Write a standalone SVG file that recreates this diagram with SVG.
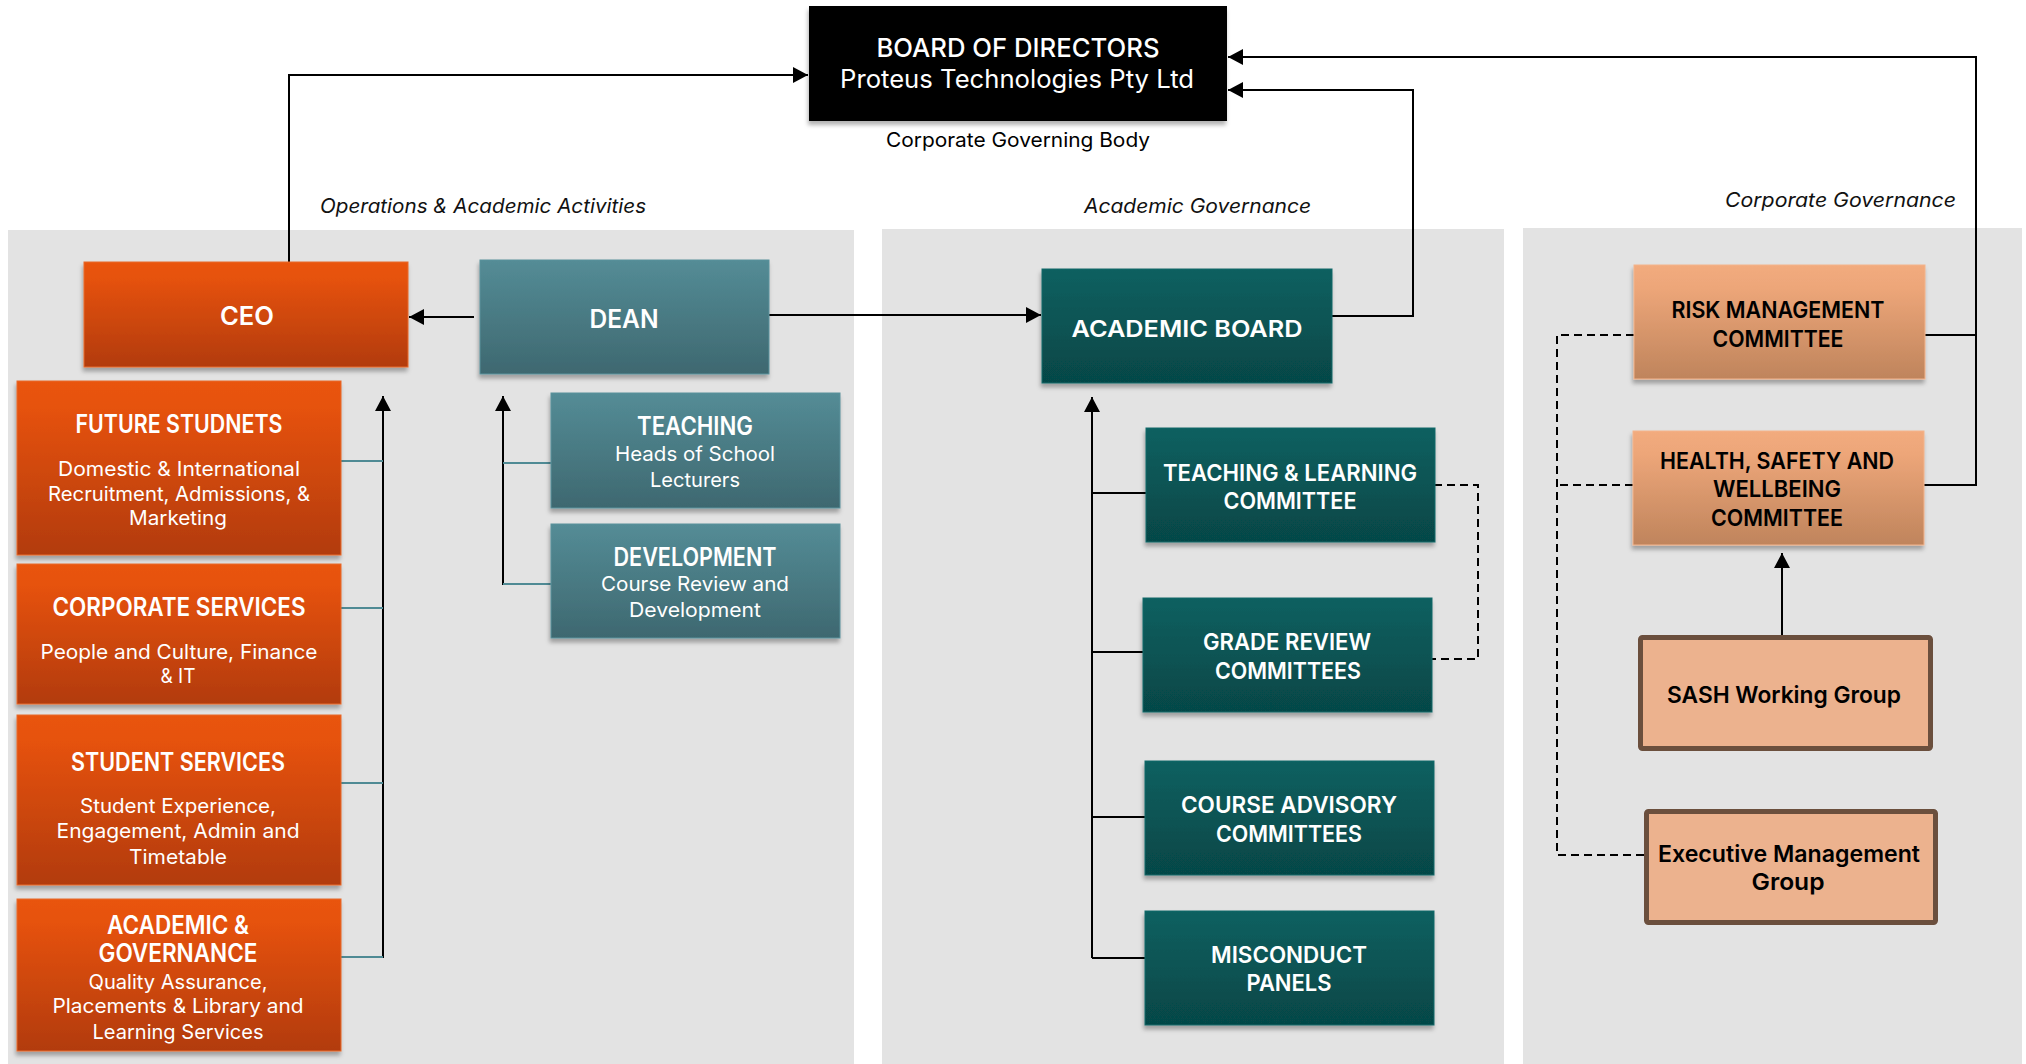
<svg xmlns="http://www.w3.org/2000/svg" width="2026" height="1064" viewBox="0 0 2026 1064">
<defs>
<linearGradient id="gOrange" x1="0" y1="0" x2="0" y2="1"><stop offset="0" stop-color="#e9540f"/><stop offset="0.15" stop-color="#e6520f"/><stop offset="1" stop-color="#b23b0a"/></linearGradient>
<linearGradient id="gTeal" x1="0" y1="0" x2="0" y2="1"><stop offset="0" stop-color="#548c96"/><stop offset="1" stop-color="#3e6870"/></linearGradient>
<linearGradient id="gDark" x1="0" y1="0" x2="0" y2="1"><stop offset="0" stop-color="#0b6060"/><stop offset="1" stop-color="#064747"/></linearGradient>
<linearGradient id="gPeach" x1="0" y1="0" x2="0" y2="1"><stop offset="0" stop-color="#f2ab7e"/><stop offset="0.2" stop-color="#eda679"/><stop offset="1" stop-color="#bf845c"/></linearGradient>
<filter id="sh" x="-10%" y="-10%" width="120%" height="130%"><feDropShadow dx="-1" dy="4" stdDeviation="2" flood-color="#000" flood-opacity="0.3"/></filter>
<marker id="ah" markerUnits="userSpaceOnUse" markerWidth="16" markerHeight="16" refX="15" refY="8" orient="auto"><path d="M0,0 L15,8 L0,16 Z" fill="#000"/></marker>
<style>
.panel{fill:#e3e3e3}
.t{font-family:Inter,"Liberation Sans",Arial,sans-serif;text-anchor:middle}
.w{fill:#fff}
.k{fill:#000}
.tt{font-size:25px;font-weight:600}
.bd{font-size:20px;font-weight:400}
.ct{font-size:23px;font-weight:600}
.sec{font-family:Inter,"Liberation Sans",Arial,sans-serif;font-size:20px;font-style:italic;fill:#111}
.ln{fill:none;stroke:#000;stroke-width:2}
.tl{fill:none;stroke:#4f8a94;stroke-width:2}
.ds{fill:none;stroke:#000;stroke-width:2;stroke-dasharray:8 5}
.or{fill:url(#gOrange);stroke:#e86a2a;stroke-width:1}
.te{fill:url(#gTeal);stroke:#5a929c;stroke-width:1}
.dk{fill:url(#gDark);stroke:#0e6a6a;stroke-width:1}
.pc{fill:url(#gPeach);stroke:#f3b48c;stroke-width:1}
.sq{fill:#ecb28e;stroke:#6b4f3d;stroke-width:5}
</style>
</defs>
<rect width="2026" height="1064" fill="#fff"/>
<g id="panels">
<rect class="panel" x="8" y="230" width="846" height="834"/>
<rect class="panel" x="882" y="229" width="622" height="835"/>
<rect class="panel" x="1523" y="228" width="499" height="836"/>
</g>
<g id="labels">
<text class="t" x="1018" y="147" font-size="20" textLength="264" lengthAdjust="spacingAndGlyphs">Corporate Governing Body</text>
<text class="sec" x="320" y="213" textLength="326" lengthAdjust="spacingAndGlyphs">Operations &amp; Academic Activities</text>
<text class="sec" x="1084" y="213" textLength="227" lengthAdjust="spacingAndGlyphs">Academic Governance</text>
<text class="sec" x="1725" y="207" textLength="231" lengthAdjust="spacingAndGlyphs">Corporate Governance</text>
</g>
<g id="connectors">
<path class="ln" d="M289 262 V75 H808" marker-end="url(#ah)"/>
<path class="ln" d="M474 317 H409" marker-end="url(#ah)"/>
<path class="ln" d="M769 315 H1041" marker-end="url(#ah)"/>
<path class="ln" d="M1332 316 H1413 V90 H1228" marker-end="url(#ah)"/>
<path class="ln" d="M1925 335 H1976 V57 H1228" marker-end="url(#ah)"/>
<path class="ln" d="M1924 485 H1976 V334"/>
<path class="ln" d="M383 958 V396" marker-end="url(#ah)"/>
<path class="tl" d="M341 461 H383 M341 608 H383 M341 783 H383 M341 957 H383"/>
<path class="ln" d="M503 585 V396" marker-end="url(#ah)"/>
<path class="tl" d="M503 463 H551 M503 584 H551"/>
<path class="ln" d="M1092 958 V397" marker-end="url(#ah)"/>
<path class="ln" d="M1092 493 H1146 M1092 652 H1143 M1092 817 H1145 M1092 958 H1145"/>
<path class="ds" d="M1434 485 H1478 V659 H1424"/>
<path class="ln" d="M1782 635 V553" marker-end="url(#ah)"/>
<path class="ds" d="M1634 335 H1557 V855 H1644"/>
<path class="ds" d="M1633 485 H1557"/>
</g>
<g id="board">
<rect x="809" y="6" width="418" height="115" fill="#000" filter="url(#sh)"/>
<text class="t w" x="1018" y="57" font-size="26" font-weight="500" textLength="283" lengthAdjust="spacingAndGlyphs">BOARD OF DIRECTORS</text>
<text class="t w" x="1017" y="88" font-size="25" textLength="354" lengthAdjust="spacingAndGlyphs">Proteus Technologies Pty Ltd</text>
</g>
<g id="ceo">
<rect class="or" x="84" y="262" width="324" height="105" filter="url(#sh)"/>
<text class="t w tt" x="247" y="325" textLength="54" lengthAdjust="spacingAndGlyphs">CEO</text>
</g>
<g id="dean">
<rect class="te" x="480" y="260" width="289" height="114" filter="url(#sh)"/>
<text class="t w tt" x="624" y="328" font-size="27" textLength="69" lengthAdjust="spacingAndGlyphs">DEAN</text>
</g>
<g id="future">
<rect class="or" x="17" y="381" width="324" height="174" filter="url(#sh)"/>
<text class="t w tt" x="179" y="433" textLength="207" lengthAdjust="spacingAndGlyphs">FUTURE STUDNETS</text>
<text class="t w bd" x="179" y="476" textLength="242" lengthAdjust="spacingAndGlyphs">Domestic &amp; International</text>
<text class="t w bd" x="179" y="501" textLength="262" lengthAdjust="spacingAndGlyphs">Recruitment, Admissions, &amp;</text>
<text class="t w bd" x="178" y="525" textLength="98" lengthAdjust="spacingAndGlyphs">Marketing</text>
</g>
<g id="corporate">
<rect class="or" x="17" y="564" width="324" height="140" filter="url(#sh)"/>
<text class="t w tt" x="179" y="616" textLength="253" lengthAdjust="spacingAndGlyphs">CORPORATE SERVICES</text>
<text class="t w bd" x="179" y="659" textLength="277" lengthAdjust="spacingAndGlyphs">People and Culture, Finance</text>
<text class="t w bd" x="178" y="683" textLength="35" lengthAdjust="spacingAndGlyphs">&amp; IT</text>
</g>
<g id="student">
<rect class="or" x="17" y="715" width="324" height="170" filter="url(#sh)"/>
<text class="t w tt" x="178" y="771" textLength="214" lengthAdjust="spacingAndGlyphs">STUDENT SERVICES</text>
<text class="t w bd" x="178" y="813" textLength="196" lengthAdjust="spacingAndGlyphs">Student Experience,</text>
<text class="t w bd" x="178" y="838" textLength="243" lengthAdjust="spacingAndGlyphs">Engagement, Admin and</text>
<text class="t w bd" x="178" y="864" textLength="98" lengthAdjust="spacingAndGlyphs">Timetable</text>
</g>
<g id="academic-governance">
<rect class="or" x="17" y="899" width="324" height="152" filter="url(#sh)"/>
<text class="t w tt" x="178" y="934" textLength="142" lengthAdjust="spacingAndGlyphs">ACADEMIC &amp;</text>
<text class="t w tt" x="178" y="962" textLength="159" lengthAdjust="spacingAndGlyphs">GOVERNANCE</text>
<text class="t w bd" x="178" y="989" textLength="179" lengthAdjust="spacingAndGlyphs">Quality Assurance,</text>
<text class="t w bd" x="178" y="1013" textLength="251" lengthAdjust="spacingAndGlyphs">Placements &amp; Library and</text>
<text class="t w bd" x="178" y="1039" textLength="171" lengthAdjust="spacingAndGlyphs">Learning Services</text>
</g>
<g id="teaching">
<rect class="te" x="551" y="393" width="289" height="115" filter="url(#sh)"/>
<text class="t w tt" x="695" y="435" textLength="116" lengthAdjust="spacingAndGlyphs">TEACHING</text>
<text class="t w bd" x="695" y="461" textLength="160" lengthAdjust="spacingAndGlyphs">Heads of School</text>
<text class="t w bd" x="695" y="487" textLength="90" lengthAdjust="spacingAndGlyphs">Lecturers</text>
</g>
<g id="development">
<rect class="te" x="551" y="524" width="289" height="114" filter="url(#sh)"/>
<text class="t w tt" x="695" y="566" textLength="163" lengthAdjust="spacingAndGlyphs">DEVELOPMENT</text>
<text class="t w bd" x="695" y="591" textLength="188" lengthAdjust="spacingAndGlyphs">Course Review and</text>
<text class="t w bd" x="695" y="617" textLength="132" lengthAdjust="spacingAndGlyphs">Development</text>
</g>
<g id="academic-board">
<rect class="dk" x="1042" y="269" width="290" height="114" filter="url(#sh)"/>
<text class="t w ct" x="1187" y="337" font-size="25" textLength="231" lengthAdjust="spacingAndGlyphs">ACADEMIC BOARD</text>
</g>
<g id="teaching-learning">
<rect class="dk" x="1146" y="428" width="289" height="114" filter="url(#sh)"/>
<text class="t w ct" x="1290" y="481" textLength="254" lengthAdjust="spacingAndGlyphs">TEACHING &amp; LEARNING</text>
<text class="t w ct" x="1290" y="509" textLength="133" lengthAdjust="spacingAndGlyphs">COMMITTEE</text>
</g>
<g id="grade-review">
<rect class="dk" x="1143" y="598" width="289" height="114" filter="url(#sh)"/>
<text class="t w ct" x="1287" y="650" textLength="168" lengthAdjust="spacingAndGlyphs">GRADE REVIEW</text>
<text class="t w ct" x="1288" y="679" textLength="146" lengthAdjust="spacingAndGlyphs">COMMITTEES</text>
</g>
<g id="course-advisory">
<rect class="dk" x="1145" y="761" width="289" height="114" filter="url(#sh)"/>
<text class="t w ct" x="1289" y="813" textLength="216" lengthAdjust="spacingAndGlyphs">COURSE ADVISORY</text>
<text class="t w ct" x="1289" y="842" textLength="146" lengthAdjust="spacingAndGlyphs">COMMITTEES</text>
</g>
<g id="misconduct">
<rect class="dk" x="1145" y="911" width="289" height="114" filter="url(#sh)"/>
<text class="t w ct" x="1289" y="963" textLength="156" lengthAdjust="spacingAndGlyphs">MISCONDUCT</text>
<text class="t w ct" x="1289" y="991" textLength="85" lengthAdjust="spacingAndGlyphs">PANELS</text>
</g>
<g id="risk">
<rect class="pc" x="1634" y="265" width="291" height="114" filter="url(#sh)"/>
<text class="t k ct" x="1778" y="318" textLength="213" lengthAdjust="spacingAndGlyphs">RISK MANAGEMENT</text>
<text class="t k ct" x="1778" y="347" textLength="131" lengthAdjust="spacingAndGlyphs">COMMITTEE</text>
</g>
<g id="health">
<rect class="pc" x="1633" y="431" width="291" height="114" filter="url(#sh)"/>
<text class="t k ct" x="1777" y="469" textLength="234" lengthAdjust="spacingAndGlyphs">HEALTH, SAFETY AND</text>
<text class="t k ct" x="1777" y="497" textLength="128" lengthAdjust="spacingAndGlyphs">WELLBEING</text>
<text class="t k ct" x="1777" y="526" textLength="132" lengthAdjust="spacingAndGlyphs">COMMITTEE</text>
</g>
<g id="sash">
<rect class="sq" x="1640.5" y="637.5" width="290" height="111" rx="2"/>
<text class="t k ct" x="1784" y="703" font-weight="500" textLength="234" lengthAdjust="spacingAndGlyphs">SASH Working Group</text>
</g>
<g id="exec">
<rect class="sq" x="1646.5" y="811.5" width="289" height="111" rx="2"/>
<text class="t k ct" x="1789" y="862" font-weight="500" textLength="262" lengthAdjust="spacingAndGlyphs">Executive Management</text>
<text class="t k ct" x="1788" y="890" font-weight="500" textLength="73" lengthAdjust="spacingAndGlyphs">Group</text>
</g>
</svg>
